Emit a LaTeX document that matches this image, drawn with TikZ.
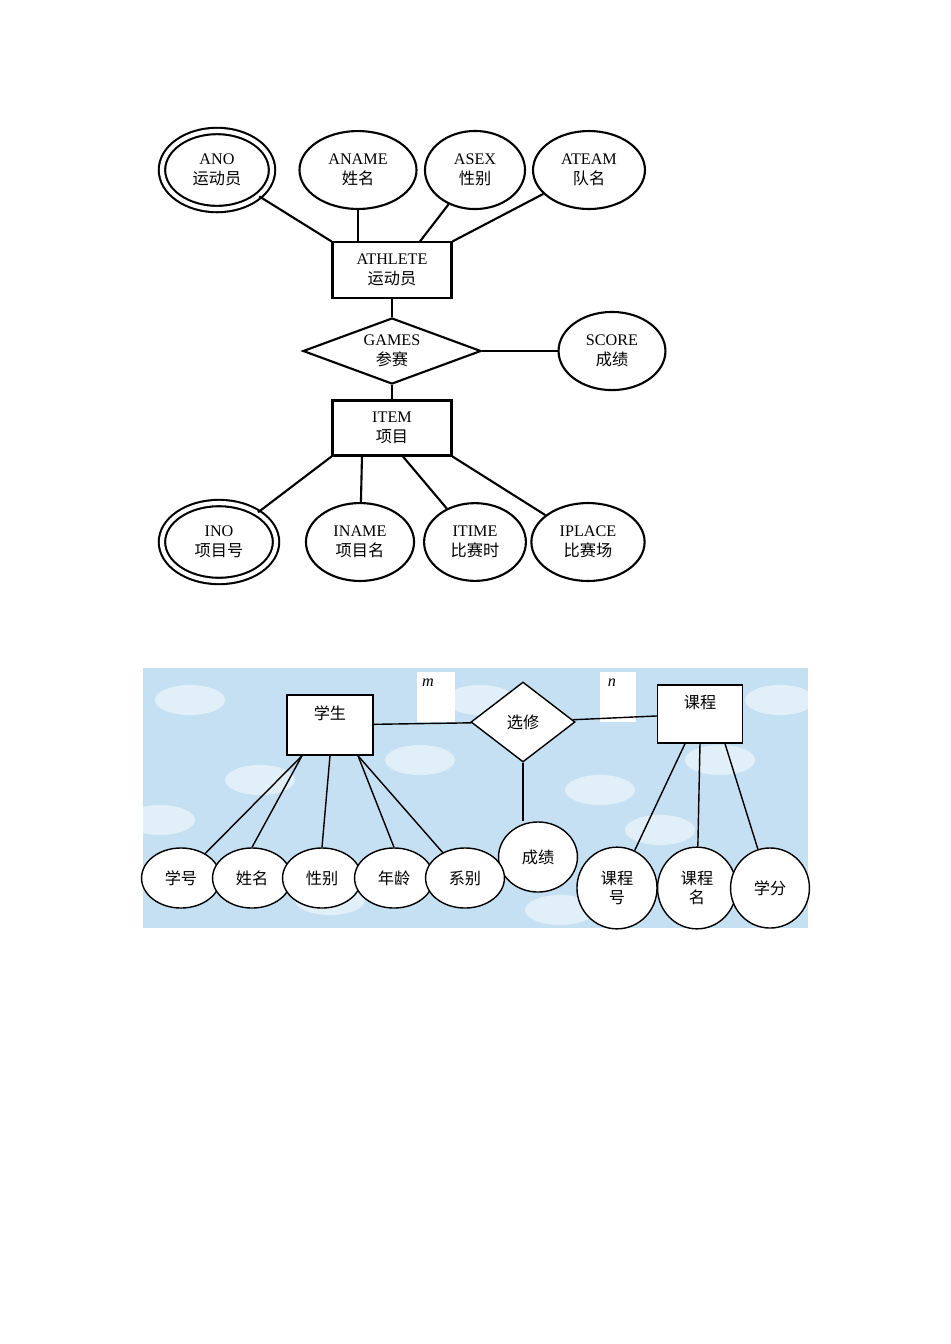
\documentclass[tikz,border=0pt]{standalone}
\usepackage{fontspec}
\setmainfont{Liberation Serif}
\newfontfamily\cjk{Noto Sans CJK SC}
\usetikzlibrary{shapes.geometric}
\definecolor{sky}{RGB}{196,224,242}
\tikzstyle{entity}=[rectangle,draw,semithick,minimum width=1.19cm,minimum height=0.49cm,align=center]
\tikzstyle{attr}=[ellipse,draw,semithick,minimum width=1.0cm,minimum height=0.66cm,align=center]
\tikzstyle{key}=[ellipse,draw,semithick,double,double distance=1.2pt,minimum width=1.1cm,minimum height=0.64cm,align=center]
\tikzstyle{rel}=[diamond,draw,semithick,aspect=2.7,minimum width=1.78cm,minimum height=0.66cm,inner sep=0pt,align=center]
\tikzstyle{battr}=[ellipse,draw,fill=white,minimum width=0.7cm,minimum height=0.6cm,align=center]
\begin{document}
\begin{tikzpicture}[x=0.01cm,y=-0.01cm,font=\fontsize{4.6}{5.6}\selectfont,semithick]
\useasboundingbox[fill=white] (0,0) rectangle (950,1344);
% top diagram: athlete / item
\node (ano)   [key]  at (217,170) {ANO\\{\cjk 运动员}};
\node (aname) [attr] at (358,170) {ANAME\\{\cjk 姓名}};
\node (asex)  [attr] at (475,170) {ASEX\\{\cjk 性别}};
\node (ateam) [attr] at (589,170) {ATEAM\\{\cjk 队名}};
\node (athlete) [entity] at (392,270) {ATHLETE\\{\cjk 运动员}};
\node (games) [rel] at (392,351) {GAMES\\{\cjk 参赛}};
\node (score) [attr] at (612,351) {SCORE\\{\cjk 成绩}};
\node (item) [entity] at (392,428) {ITEM\\{\cjk 项目}};
\node (ino)   [key,minimum width=1.14cm,minimum height=0.66cm] at (219,542) {INO\\{\cjk 项目号}};
\node (iname) [attr] at (360,542) {INAME\\{\cjk 项目名}};
\node (itime) [attr] at (475,542) {ITIME\\{\cjk 比赛时}};
\node (iplace)[attr] at (588,542) {IPLACE\\{\cjk 比赛场}};
\path
(ano) edge (athlete.north west)
(aname) edge (aname |- athlete.north)
(asex) edge ([xshift=0.28cm]athlete.north)
(ateam) edge (athlete.north east)
(athlete) edge (games)
(games) edge (item)
(games) edge (score)
(item.south west) edge (ino)
([xshift=-0.3cm]item.south) edge (iname)
([xshift=0.11cm]item.south) edge (itime)
(item.south east) edge (iplace)
;
% bottom diagram: student / course
\fill[sky] (143,668) rectangle (808,928);
\foreach \cx/\cy in {190/700,260/780,420/760,600/790,720/760,780/700,330/900,560/910,160/820,480/700,660/830}
  \fill[white,opacity=0.5] (\cx,\cy) ellipse (0.35cm and 0.15cm);
\begin{scope}[thin,font=\cjk\fontsize{4.6}{5.6}\selectfont]
\fill[white] (417,672) rectangle (455,722);
\fill[white] (600,672) rectangle (636,722);
\node (stu) [draw,fill=white,minimum width=0.86cm,minimum height=0.6cm] at (330,725) {};
\node at (330,713) {学生};
\node (sel) [diamond,draw,fill=white,aspect=1.3,minimum width=1.04cm,minimum height=0.8cm,inner sep=0pt] at (523,722) {选修};
\node (crs) [draw,fill=white,minimum width=0.85cm,minimum height=0.58cm] at (700,714) {};
\node at (700,702) {课程};
\node at (428,683) {\itshape\fontspec{Liberation Serif}m};
\node at (612,683) {\itshape\fontspec{Liberation Serif}n};
\node (grade) [battr,minimum width=0.66cm,minimum height=0.7cm] at (538,857) {成绩};
\node (sno) [battr] at (181,878) {学号};
\node (sname) [battr] at (252,878) {姓名};
\node (ssex) [battr] at (322,878) {性别};
\node (sage) [battr] at (394,878) {年龄};
\node (sdept) [battr] at (465,878) {系别};
\node (cno) [battr,minimum width=0.8cm,minimum height=0.8cm] at (617,888) {课程\\号};
\node (cname) [battr,minimum width=0.7cm,minimum height=0.8cm] at (697,888) {课程\\名};
\node (credit) [battr,minimum width=0.7cm,minimum height=0.8cm] at (770,888) {学分};
\path
(stu) edge (sel)
(sel) edge (crs)
(sel.south) edge (sel.south |- grade.north)
([xshift=-0.28cm]stu.south) edge (sno)
([xshift=-0.28cm]stu.south) edge (sname.north)
(stu.south) edge (ssex.north)
([xshift=0.28cm]stu.south) edge (sage.north)
([xshift=0.28cm]stu.south) edge (sdept)
([xshift=-0.15cm]crs.south) edge (cno)
(crs.south) edge (cname)
([xshift=0.25cm]crs.south) edge (credit)
;
\end{scope}
\end{tikzpicture}
\end{document}
